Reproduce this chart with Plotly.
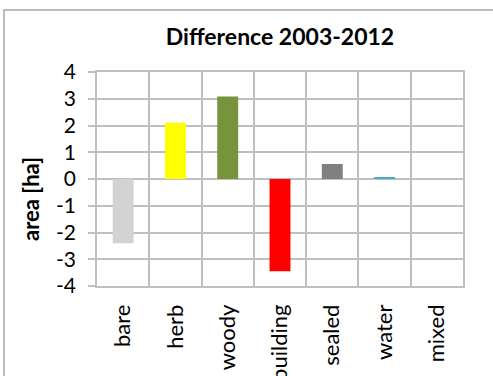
import plotly.graph_objects as go

categories = ["bare", "herb", "woody", "building", "sealed", "water", "mixed"]
values = [-2.4, 2.1, 3.08, -3.45, 0.56, 0.05, 0.0]
colors = ["#d3d3d3", "#ffff00", "#77933c", "#ff0000", "#808080", "#4bacc6", "#ffffff"]
y_ticks = [-4, -3, -2, -1, 0, 1, 2, 3, 4]
y_ticktext = [str(v) for v in y_ticks]

FONT = "Lato"
GRID = "#bfbfbf"

fig = go.Figure(go.Bar(x=categories, y=values, marker=dict(color=colors, line=dict(width=0)), width=0.4))

fig.update_layout(
    width=493, height=376,
    margin=dict(l=97, r=30, t=72, b=90, autoexpand=False),
    paper_bgcolor="white", plot_bgcolor="white",
    showlegend=False,
    font=dict(family=FONT, color="black"),
    title=dict(text="<b>Difference 2003-2012</b>", x=0.5, xref="paper", xanchor="center",
               y=1 - 37 / 376, yanchor="middle", font=dict(size=23, family=FONT, color="black")),
)
fig.update_xaxes(
    type="category", range=[-0.5, 6.5], tickson="boundaries", automargin=False,
    showgrid=True, gridcolor=GRID, gridwidth=1.5,
    showline=True, linecolor=GRID, linewidth=1.5, mirror=True,
    ticks="", tickangle=-90, tickfont=dict(size=22, family=FONT, color="black"),
    ticklabelstandoff=8,
)
fig.update_yaxes(
    range=[-4, 4], tickvals=y_ticks, ticktext=y_ticktext, automargin=False,
    showgrid=True, gridcolor=GRID, gridwidth=1.5,
    zeroline=True, zerolinecolor=GRID, zerolinewidth=1.5,
    showline=True, linecolor=GRID, linewidth=1.5, mirror=True,
    ticks="outside", ticklen=7, tickcolor=GRID, tickwidth=1.5,
    tickfont=dict(size=21, family=FONT, color="black"), ticklabelstandoff=8,
)
fig.add_annotation(text="<b>area [ha]</b>", textangle=-90, xref="paper", yref="paper",
                   x=(30 - 97) / 366, y=(286 - 199) / 214, showarrow=False,
                   xanchor="center", yanchor="middle", font=dict(size=22, family=FONT, color="black"))
fig.add_shape(type="rect", xref="paper", yref="paper",
              x0=(4 - 97) / 366, x1=(505 - 97) / 366, y0=(286 - 390) / 214, y1=(286 - 10) / 214,
              line=dict(color="#a6a6a6", width=1.5), fillcolor="rgba(0,0,0,0)", layer="below")

fig.write_html("out.html")
